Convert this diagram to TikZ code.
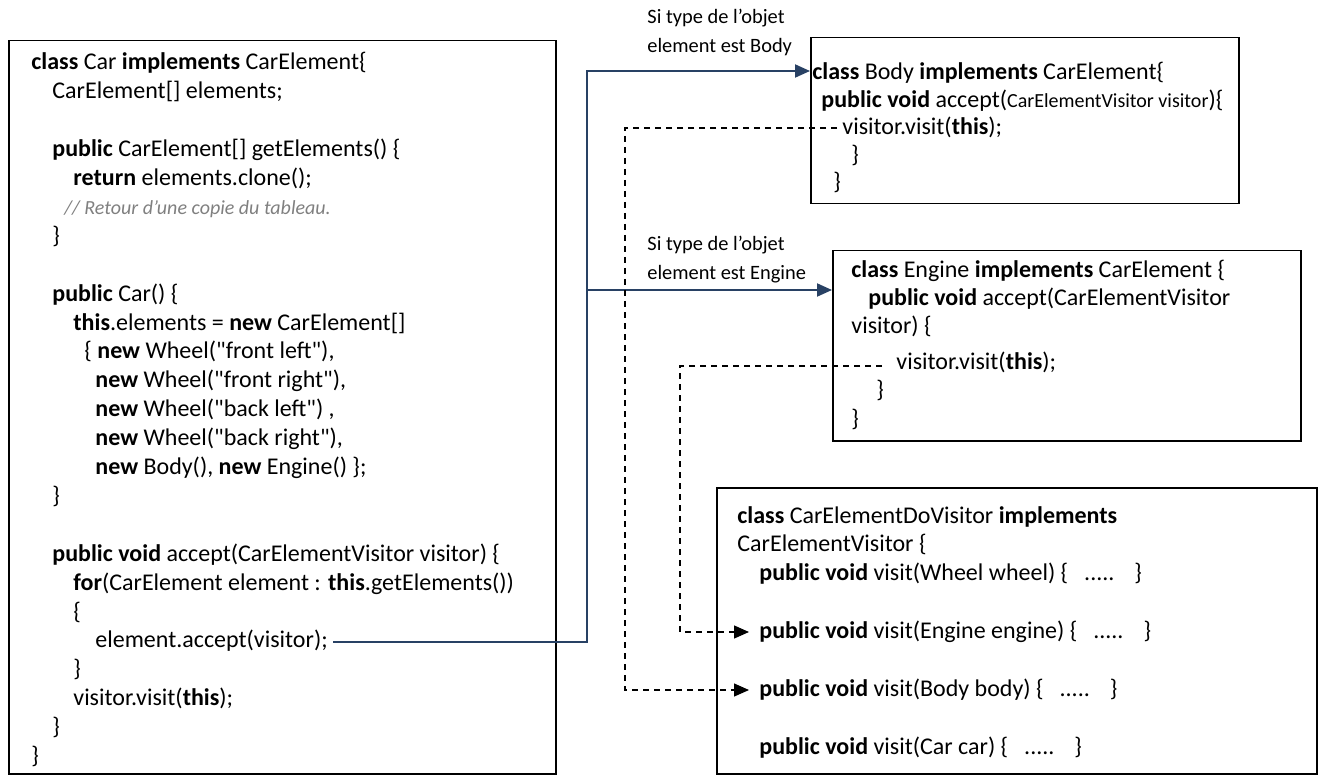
\documentclass[tikz,border=0pt]{standalone}
\usepackage{fontspec}
\setmainfont{Carlito}
\usetikzlibrary{arrows.meta}
\definecolor{flowblue}{RGB}{40,65,100}
\definecolor{commentgrey}{RGB}{128,128,128}
\newcommand{\kw}[1]{\textbf{#1}}
\newcommand{\ind}[1]{\hspace*{#1pt}}
\newcommand{\str}[1]{\textquotedbl#1\textquotedbl}
% left-aligned block whose baseline is the baseline of its first line
\newenvironment{listing}{\begin{tabular}[t]{@{}l@{}}}{\end{tabular}}
\begin{document}
\begin{tikzpicture}[x=0.5pt,y=-0.5pt,
  classbox/.style={draw=black,line width=0.75pt,inner sep=0pt,anchor=north west},
  code/.style={anchor=base west,inner sep=0pt,
    font=\fontsize{12}{14.45}\selectfont},
  note/.style={anchor=base west,inner sep=0pt,
    font=\fontsize{10.2}{14.2}\selectfont},
  dispatch/.style={draw=flowblue,line width=1pt,-{Triangle[length=7.5pt,width=6.5pt]}},
  callback/.style={draw=black,line width=0.65pt,dash pattern=on 3pt off 2.5pt,
    -{Triangle[length=7.5pt,width=6.5pt]}},
]
\useasboundingbox (0,0) rectangle (1325,780);

% class boxes
\node[classbox,minimum width=273.5pt,minimum height=366.5pt] (carbox) at (8,40) {};
\node[classbox,minimum width=214pt,minimum height=83pt] (bodybox) at (810,37) {};
\node[classbox,minimum width=234pt,minimum height=95pt] (enginebox) at (832,250) {};
\node[classbox,minimum width=300pt,minimum height=143pt] (visitorbox) at (716,487) {};

% class Car
\node[code] (cartext) at (31,70) {\begin{listing}
\kw{class} Car \kw{implements} CarElement\{\\
\ind{10.5}CarElement[] elements;\\
\mbox{}\\
\ind{10.5}\kw{public} CarElement[] getElements() \{\\
\ind{21}\kw{return} elements.clone();\\
\ind{16.5}{\color{commentgrey}\fontsize{10}{12}\selectfont\itshape // Retour d’une copie du tableau.}\\
\ind{10.5}\}\\
\mbox{}\\
\ind{10.5}\kw{public} Car() \{\\
\ind{21}\kw{this}.elements = \kw{new} CarElement[]\\
\ind{26.5}\{ \kw{new} Wheel(\str{front left}),\\
\ind{32}\kw{new} Wheel(\str{front right}),\\
\ind{32}\kw{new} Wheel(\str{back left}) ,\\
\ind{32}\kw{new} Wheel(\str{back right}),\\
\ind{32}\kw{new} Body(), \kw{new} Engine() \};\\
\ind{10.5}\}\\
\mbox{}\\
\ind{10.5}\kw{public void} accept(CarElementVisitor visitor) \{\\
\ind{21}\kw{for}(CarElement element : \kw{this}.getElements())\\
\ind{21}\{\\
\ind{32}element.accept(visitor);\\
\ind{21}\}\\
\ind{21}visitor.visit(\kw{this});\\
\ind{10.5}\}\\
\}
\end{listing}};

% class Body
\node[code,font=\fontsize{12}{13.75}\selectfont] (bodytext) at (812,80) {\begin{listing}
\kw{class} Body \kw{implements} CarElement\{\\
\ind{4.5}\kw{public void} accept({\fontsize{10}{12}\selectfont CarElementVisitor visitor})\{\\
\ind{15}visitor.visit(\kw{this});\\
\ind{19.5}\}\\
\ind{10.5}\}
\end{listing}};

% class Engine
\node[code,font=\fontsize{12}{14}\selectfont] (enginetext) at (851,278) {\begin{listing}
\kw{class} Engine \kw{implements} CarElement \{\\
\ind{8.5}\kw{public void} accept(CarElementVisitor\\
visitor) \{\\[4pt]
\ind{22.5}visitor.visit(\kw{this});\\
\ind{12.5}\}\\
\}
\end{listing}};

% class CarElementDoVisitor
\node[code] (visitortext) at (737,523) {\begin{listing}
\kw{class} CarElementDoVisitor \kw{implements}\\
CarElementVisitor \{\\
\ind{11}\kw{public void} visit(Wheel wheel) \{\ind{8}.....\ind{10}\}\\
\mbox{}\\
\ind{11}\kw{public void} visit(Engine engine) \{\ind{8}.....\ind{10}\}\\
\mbox{}\\
\ind{11}\kw{public void} visit(Body body) \{\ind{8}.....\ind{10}\}\\
\mbox{}\\
\ind{11}\kw{public void} visit(Car car) \{\ind{8}.....\ind{10}\}
\end{listing}};

% labels of the dispatch branches
\node[note] (bodylabel) at (647,24) {\begin{listing}Si type de l’objet\\element est Body\end{listing}};
\node[note] (enginelabel) at (647,251) {\begin{listing}Si type de l’objet\\element est Engine\end{listing}};

% anchor points of the connectors
\coordinate (acceptcall) at (333,642);
\coordinate (fork) at (587,642);
\coordinate (bodyin) at (810,71);
\coordinate (enginein) at (832,290);
\coordinate (bodycall) at (837,128);
\coordinate (bodyturn) at (625,128);
\coordinate (bodyvisit) at (749,690);
\coordinate (enginecall) at (882,366);
\coordinate (engineturn) at (680,366);
\coordinate (enginevisit) at (749,632);

% element.accept(visitor) dispatches on the runtime type
\draw[dispatch] (acceptcall) -- (fork) |- (bodyin);
\draw[dispatch] (fork |- enginein) -- (enginein);

% accept() calls back the matching visit()
\draw[callback] (bodycall) -- (bodyturn) |- (bodyvisit);
\draw[callback] (enginecall) -- (engineturn) |- (enginevisit);
\end{tikzpicture}
\end{document}
